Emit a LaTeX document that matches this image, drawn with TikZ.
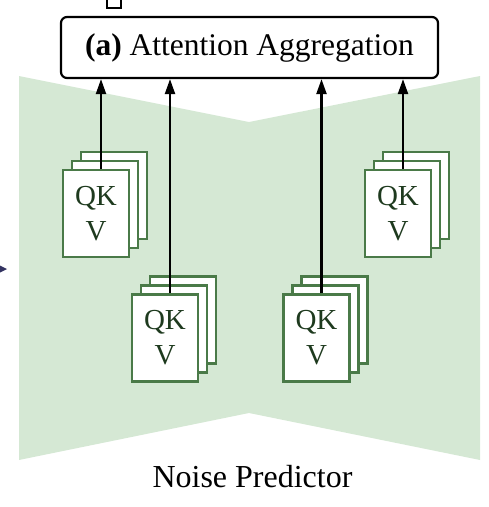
\documentclass[tikz,border=0pt]{standalone}
\usepackage{fontspec}
\setmainfont{Liberation Serif}
\usetikzlibrary{arrows.meta}

\definecolor{sfondo}{HTML}{D5E8D4}
\definecolor{bordoqkv}{HTML}{4A7A48}
\definecolor{testoqkv}{HTML}{1E3A1E}

\tikzset{
  pagina/.style={draw=bordoqkv, line width=2.2pt, fill=white},
  qkv/.style={pagina, minimum width=66pt, minimum height=87pt, align=center,
    text=testoqkv, font=\fontsize{29}{35}\selectfont},
  freccia/.style={line width=2.2pt, -{Triangle[length=15pt,width=10pt]}}
}

\begin{document}
\begin{tikzpicture}[x = 1pt, y = -1pt]

    \useasboundingbox (0,0) rectangle (489,507);

    % Sfondo a farfalla
    \fill[sfondo] (19,76) -- (249,122) -- (480,76) -- (480,460) -- (249,413) -- (19,460) -- cycle;

    % Resti ai bordi
    \draw[line width=1.5pt, fill=white] (107,-3) rectangle (121,8);
    \fill[black!70!blue!60!gray] (0,265.5) -- (7,269) -- (0,272.5) -- cycle;

    % Blocco aggregazione
    \node[draw, line width=2.2pt, rounded corners=6pt, minimum width=377pt, minimum height=61pt,
      font=\fontsize{31.5}{36}\selectfont] (agg) at (249.5,47.5) {\textbf{(a)} Attention Aggregation};

    % Blocchi QKV (due pagine dietro ciascuno)
    \foreach \n/\x/\y in {q1/96/213.5, q2/165/338, q3/316.5/338, q4/398/213.5} {
      \draw[pagina] (\x-15,\y-61.5) rectangle +(66,87);
      \draw[pagina] (\x-24,\y-52.5) rectangle +(66,87);
      \node[qkv] (\n) at (\x,\y) {QK\\V};
    }

    % Frecce
    \foreach \q in {q1,q2,q3,q4}
      \draw[freccia] ([xshift=5pt]\q.north) -- ([xshift=5pt]\q.north |- agg.south);

    % Etichetta
    \node[anchor=base, font=\fontsize{32}{36}\selectfont] (np) at (252.5,487) {Noise Predictor};

\end{tikzpicture}
\end{document}
